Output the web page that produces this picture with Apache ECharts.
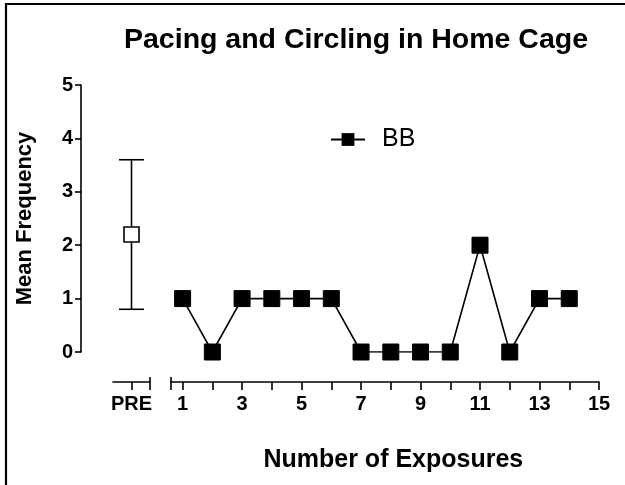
<!DOCTYPE html>
<html>
<head>
<meta charset="utf-8">
<script src="https://cdn.jsdelivr.net/npm/echarts@6/dist/echarts.min.js"></script>
<style>
html,body{margin:0;padding:0;background:#fff;}
#chart{width:625px;height:485px;}
</style>
</head>
<body>
<div id="chart"></div>
<script>
// ---- data ----
const titleText = 'Pacing and Circling in Home Cage';
const yAxisTitle = 'Mean Frequency';
const xAxisTitle = 'Number of Exposures';
const seriesName = 'BB';
const preLabel = 'PRE';
const preMean = [2.2];
const preLow = [0.8];
const preHigh = [3.6];
const exposures = [1, 2, 3, 4, 5, 6, 7, 8, 9, 10, 11, 12, 13, 14];
const bbValues = [1, 0, 1, 1, 1, 1, 0, 0, 0, 0, 2, 0, 1, 1];
const xTickValues = [0.6, 1, 2, 3, 4, 5, 6, 7, 8, 9, 10, 11, 12, 13, 14, 15];
const xLabelValues = [1, 3, 5, 7, 9, 11, 13, 15];
const yMin = 0, yMax = 5, yStep = 1;

const FONT = '"Liberation Sans", Arial, sans-serif';
const chart = echarts.init(document.getElementById('chart'), null, {renderer: 'canvas'});

const gridTop = 85, gridBottom = 485 - 352;
const axisOffset = 30;
const lineSt = {color: '#000', width: 1.6};

function capAxis(gridIndex, min, max, at) {
  return {
    gridIndex: gridIndex, type: 'value', min: min, max: max, position: 'bottom', offset: axisOffset,
    axisLine: {show: false, onZero: false},
    axisTick: {show: true, inside: true, length: 5, lineStyle: lineSt, customValues: [at]},
    axisLabel: {show: false}, splitLine: {show: false}
  };
}

const option = {
  backgroundColor: '#ffffff',
  animation: false,
  title: {
    text: titleText,
    left: 351,
    top: 21,
    textAlign: 'center',
    textStyle: {fontFamily: FONT, fontSize: 28.5, fontWeight: 'bold', color: '#000'}
  },
  legend: {
    data: [seriesName],
    left: 325,
    top: 122,
    itemWidth: 34,
    itemHeight: 16,
    textStyle: {fontFamily: FONT, fontSize: 25, color: '#000', padding: [0, 0, 0, 12]}
  },
  grid: [
    {left: 81, right: 26, top: gridTop, bottom: gridBottom},
    {left: 113, width: 37, top: gridTop, bottom: gridBottom},
    {left: 170.7, right: 26, top: gridTop, bottom: gridBottom}
  ],
  xAxis: [
    {gridIndex: 0, type: 'value', min: 0, max: 1, show: false},
    {
      gridIndex: 1, type: 'value', min: -1, max: 1, position: 'bottom', offset: axisOffset,
      axisLine: {show: true, onZero: false, lineStyle: lineSt},
      axisTick: {show: true, length: 8, lineStyle: lineSt, customValues: [0, 1]},
      axisLabel: {show: true, margin: 12, fontFamily: FONT, fontSize: 20, fontWeight: 'bold', color: '#000',
        customValues: [0], formatter: function () { return preLabel; }},
      splitLine: {show: false}
    },
    {
      gridIndex: 2, type: 'value', min: 0.6, max: 15, position: 'bottom', offset: axisOffset,
      name: xAxisTitle, nameLocation: 'middle', nameGap: 66,
      nameTextStyle: {fontFamily: FONT, fontSize: 25, fontWeight: 'bold', color: '#000', padding: [0, 0, 0, 17]},
      axisLine: {show: true, onZero: false, lineStyle: lineSt},
      axisTick: {show: true, length: 8, lineStyle: lineSt, customValues: xTickValues},
      axisLabel: {show: true, margin: 12, fontFamily: FONT, fontSize: 20, fontWeight: 'bold', color: '#000',
        customValues: xLabelValues},
      splitLine: {show: false}
    },
    capAxis(1, -1, 1, 1),
    capAxis(2, 0.6, 15, 0.6)
  ],
  yAxis: [
    {
      gridIndex: 0, type: 'value', min: yMin, max: yMax, interval: yStep,
      name: yAxisTitle, nameLocation: 'middle', nameGap: 45, nameRotate: 90,
      nameTextStyle: {fontFamily: FONT, fontSize: 22, fontWeight: 'bold', color: '#000'},
      axisLine: {show: true, onZero: false, lineStyle: lineSt},
      axisTick: {show: true, length: 6, lineStyle: lineSt},
      axisLabel: {margin: 8, fontFamily: FONT, fontSize: 20, fontWeight: 'bold', color: '#000'},
      splitLine: {show: false}
    },
    {gridIndex: 1, type: 'value', min: yMin, max: yMax, show: false},
    {gridIndex: 2, type: 'value', min: yMin, max: yMax, show: false}
  ],
  series: [
    {
      type: 'custom',
      name: 'PRE error',
      xAxisIndex: 1, yAxisIndex: 1,
      data: preMean.map(function (m, i) { return [0, preLow[i], preHigh[i]]; }),
      renderItem: function (params, api) {
        const x = api.value(0);
        const lo = api.coord([x, api.value(1)]);
        const hi = api.coord([x, api.value(2)]);
        const hw = 12.5;
        const st = {stroke: '#000', lineWidth: 1.6, fill: null};
        return {
          type: 'group',
          children: [
            {type: 'line', shape: {x1: lo[0], y1: lo[1], x2: hi[0], y2: hi[1]}, style: st},
            {type: 'line', shape: {x1: lo[0] - hw, y1: lo[1], x2: lo[0] + hw, y2: lo[1]}, style: st},
            {type: 'line', shape: {x1: hi[0] - hw, y1: hi[1], x2: hi[0] + hw, y2: hi[1]}, style: st}
          ]
        };
      },
      z: 2
    },
    {
      type: 'scatter',
      name: 'PRE',
      xAxisIndex: 1, yAxisIndex: 1,
      data: preMean.map(function (m) { return [0, m]; }),
      symbol: 'rect', symbolSize: 15,
      itemStyle: {color: '#fff', borderColor: '#000', borderWidth: 1.6, opacity: 1},
      z: 3
    },
    {
      type: 'line',
      name: seriesName,
      xAxisIndex: 2, yAxisIndex: 2,
      data: exposures.map(function (x, i) { return [x, bbValues[i]]; }),
      symbol: 'rect', symbolSize: 16, showSymbol: true,
      lineStyle: lineSt,
      itemStyle: {color: '#000', borderColor: '#000', opacity: 1},
      z: 3
    }
  ],
  graphic: [
    {type: 'line', shape: {x1: 6, y1: 3, x2: 6, y2: 485}, style: {stroke: '#000', lineWidth: 2.2}},
    {type: 'line', shape: {x1: 5, y1: 4, x2: 625, y2: 4}, style: {stroke: '#000', lineWidth: 2.2}}
  ]
};
chart.setOption(option);
</script>
</body>
</html>
